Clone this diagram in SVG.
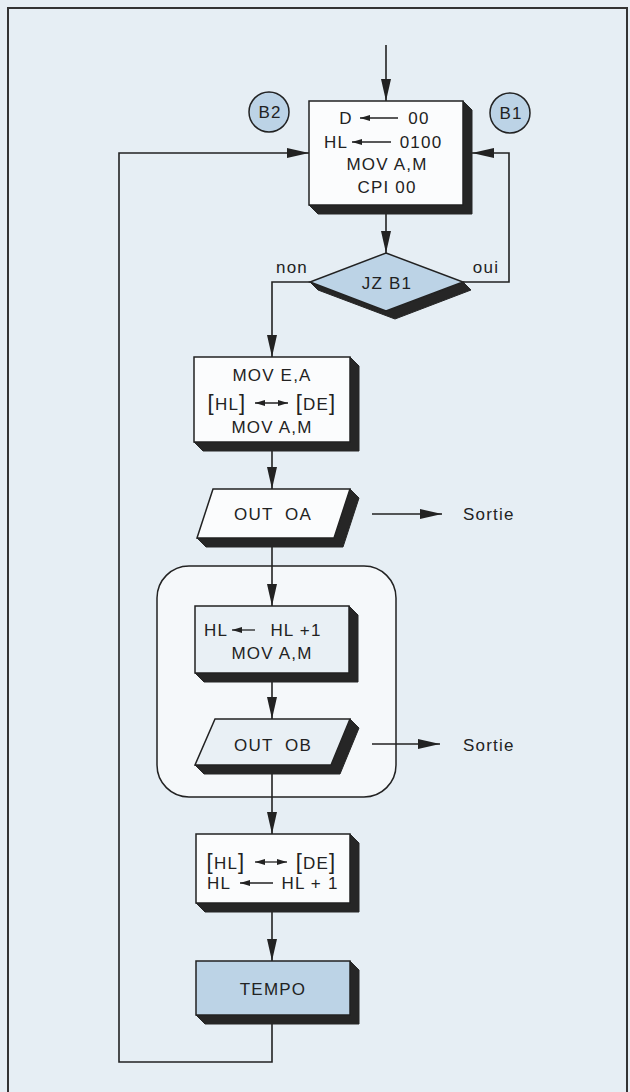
<svg xmlns="http://www.w3.org/2000/svg" width="630" height="1092" viewBox="0 0 630 1092">
<defs>
<marker id="ah" markerUnits="userSpaceOnUse" markerWidth="22" markerHeight="12" refX="22" refY="6" orient="auto"><path d="M0,1 L22,6 L0,11 Z" fill="#222"/></marker>
<marker id="sm" markerUnits="userSpaceOnUse" markerWidth="10" markerHeight="8" refX="10" refY="4" orient="auto-start-reverse"><path d="M0,1 L10,4 L0,7 Z" fill="#222"/></marker>
<style>
.t{font-family:"Liberation Sans","DejaVu Sans",sans-serif;font-size:17px;letter-spacing:1.2px;fill:#222;text-anchor:middle}
.l{font-family:"Liberation Sans","DejaVu Sans",sans-serif;font-size:17px;letter-spacing:1.2px;fill:#222}
.br{font-size:22px;font-weight:300}
.box{fill:#fbfcfd;stroke:#222;stroke-width:1.5}
.tint{fill:#e9f0f5;stroke:#222;stroke-width:1.5}
.blue{fill:#bcd3e6;stroke:#222;stroke-width:1.5}
.sh{fill:#262626;stroke:#262626;stroke-width:1}
.c{fill:none;stroke:#222;stroke-width:1.6}
.sa{fill:none;stroke:#222;stroke-width:1.3}
</style>
</defs>
<rect x="0" y="0" width="630" height="1092" fill="#e6eef4"/>
<path d="M8,1092 V8 H627 V1092" fill="none" stroke="#333" stroke-width="2"/>

<g id="container">
<rect x="157" y="566" width="239" height="231" rx="32" fill="#f5f8fa" stroke="#222" stroke-width="1.5"/>
</g>

<g id="connectors">
<path class="c" d="M386,45 V101" marker-end="url(#ah)"/>
<path class="c" d="M386,205 V253" marker-end="url(#ah)"/>
<path class="c" d="M463,282 H509 V153 H472" marker-end="url(#ah)"/>
<path class="c" d="M310,282 H272 V357" marker-end="url(#ah)"/>
<path class="c" d="M272,442 V489" marker-end="url(#ah)"/>
<path class="c" d="M372,514 H442" marker-end="url(#ah)"/>
<path class="c" d="M272,538 V606" marker-end="url(#ah)"/>
<path class="c" d="M272,673 V719" marker-end="url(#ah)"/>
<path class="c" d="M372,744 H440" marker-end="url(#ah)"/>
<path class="c" d="M272,765 V834" marker-end="url(#ah)"/>
<path class="c" d="M272,903 V961" marker-end="url(#ah)"/>
<path class="c" d="M272,1015 V1062 H119 V153 H309" marker-end="url(#ah)"/>
</g>

<g id="b2">
<circle cx="269" cy="112" r="20" class="blue"/>
<text class="t" x="270" y="118">B2</text>
</g>
<g id="b1">
<circle cx="510" cy="113" r="20" class="blue"/>
<text class="t" x="511" y="119">B1</text>
</g>

<g id="init">
<path class="sh" d="M463,101 L472,110 V214 H318 L309,205 H463 Z"/>
<rect class="box" x="309" y="101" width="154" height="104"/>
<text class="t" x="346" y="124">D</text>
<line class="sa" x1="398" y1="118" x2="360" y2="118" marker-end="url(#sm)"/>
<text class="t" x="419" y="124">00</text>
<text class="t" x="336" y="148">HL</text>
<line class="sa" x1="391" y1="142" x2="352" y2="142" marker-end="url(#sm)"/>
<text class="t" x="421" y="148">0100</text>
<text class="t" x="387" y="170">MOV A,M</text>
<text class="t" x="387" y="193">CPI 00</text>
</g>

<g id="jz">
<path class="sh" d="M310,282 L386,311 L463,282 L471,290 L395,319 L318,290 Z"/>
<path class="blue" d="M386,253 L463,282 L386,311 L310,282 Z"/>
<text class="t" x="387" y="289">JZ B1</text>
<text class="t" x="292" y="273">non</text>
<text class="t" x="486" y="273">oui</text>
</g>

<g id="mov-e">
<path class="sh" d="M350,357 L359,366 V451 H203 L194,442 H350 Z"/>
<rect class="box" x="194" y="357" width="156" height="85"/>
<text class="t" x="272" y="381">MOV E,A</text>
<text class="t" x="227" y="410"><tspan class="br">[</tspan>HL<tspan class="br">]</tspan></text>
<line class="sa" x1="255" y1="403" x2="288" y2="403" marker-start="url(#sm)" marker-end="url(#sm)"/>
<text class="t" x="316" y="410"><tspan class="br">[</tspan>DE<tspan class="br">]</tspan></text>
<text class="t" x="272" y="433">MOV A,M</text>
</g>

<g id="out-oa">
<path class="sh" d="M350,489 L359,498 L343,547 H206 L197,538 H334 Z"/>
<path class="box" d="M213,489 H350 L334,538 H197 Z"/>
<text class="t" x="273" y="520" xml:space="preserve">OUT  OA</text>
</g>
<g id="sortie-a">
<text class="l" x="463" y="520">Sortie</text>
</g>

<g id="inc">
<path class="sh" d="M349,606 L358,615 V682 H204 L195,673 H349 Z"/>
<rect class="tint" x="195" y="606" width="154" height="67"/>
<text class="t" x="216" y="636">HL</text>
<line class="sa" x1="255" y1="630" x2="232" y2="630" marker-end="url(#sm)"/>
<text class="t" x="296" y="636">HL +1</text>
<text class="t" x="272" y="659">MOV A,M</text>
</g>

<g id="out-ob">
<path class="sh" d="M350,719 L359,728 L340,774 H204 L195,765 H331 Z"/>
<path class="tint" d="M215,719 H350 L331,765 H195 Z"/>
<text class="t" x="273" y="751" xml:space="preserve">OUT  OB</text>
</g>
<g id="sortie-b">
<text class="l" x="463" y="751">Sortie</text>
</g>

<g id="swap">
<path class="sh" d="M350,834 L359,843 V912 H205 L196,903 H350 Z"/>
<rect class="box" x="196" y="834" width="154" height="69"/>
<text class="t" x="226" y="869"><tspan class="br">[</tspan>HL<tspan class="br">]</tspan></text>
<line class="sa" x1="255" y1="862" x2="287" y2="862" marker-start="url(#sm)" marker-end="url(#sm)"/>
<text class="t" x="316" y="869"><tspan class="br">[</tspan>DE<tspan class="br">]</tspan></text>
<text class="t" x="219" y="889">HL</text>
<line class="sa" x1="273" y1="883" x2="240" y2="883" marker-end="url(#sm)"/>
<text class="t" x="310" y="889">HL + 1</text>
</g>

<g id="tempo">
<path class="sh" d="M350,961 L359,970 V1024 H205 L196,1015 H350 Z"/>
<rect class="blue" x="196" y="961" width="154" height="54"/>
<text class="t" x="273" y="995">TEMPO</text>
</g>
</svg>
